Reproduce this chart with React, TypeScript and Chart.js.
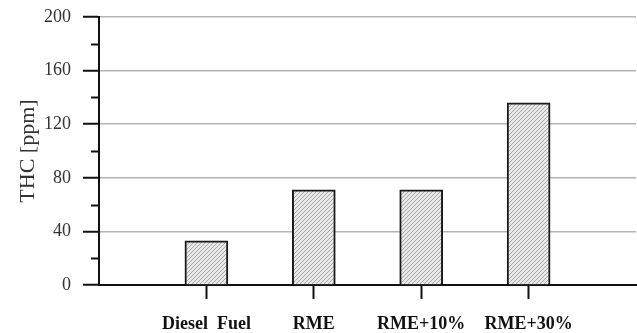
import React, { useEffect, useRef } from "react";
import { Chart, registerables } from "chart.js";

Chart.register(...registerables);

// Fuel types and measured total hydrocarbons
const fuels = ["Diesel  Fuel", "RME", "RME+10%", "RME+30%"];
const thcValues = [33, 71, 71, 136];
const majorTicks = [0, 40, 80, 120, 160, 200];
const minorTicks = [20, 60, 100, 140, 180];

function hatchPattern(): CanvasPattern | string {
  const size = 4;
  const c = document.createElement("canvas");
  c.width = size;
  c.height = size;
  const g = c.getContext("2d");
  if (!g) return "#ddd";
  g.fillStyle = "#e8e8e8";
  g.fillRect(0, 0, size, size);
  g.strokeStyle = "#a8a8a8";
  g.lineWidth = 1;
  g.beginPath();
  g.moveTo(0, size);
  g.lineTo(size, 0);
  g.moveTo(-1, 1);
  g.lineTo(1, -1);
  g.moveTo(size - 1, size + 1);
  g.lineTo(size + 1, size - 1);
  g.stroke();
  const p = g.createPattern(c, "repeat");
  return p || "#ddd";
}

// Short unlabelled ticks between the labelled ones on the value axis
const minorTickPlugin = {
  id: "minorTicks",
  afterDraw(chart: any) {
    const y = chart.scales.y;
    const ctx = chart.ctx;
    ctx.save();
    ctx.strokeStyle = "#111";
    ctx.lineWidth = 2;
    for (const v of minorTicks) {
      const py = Math.round(y.getPixelForValue(v)) + 0.5;
      ctx.beginPath();
      ctx.moveTo(y.right - 8, py);
      ctx.lineTo(y.right, py);
      ctx.stroke();
    }
    ctx.restore();
  },
};

export default function App() {
  const ref = useRef<HTMLCanvasElement>(null);

  useEffect(() => {
    if (!ref.current) return;
    // empty slots at both ends keep the bars away from the axis edges
    const labels = ["", ...fuels, ""];
    const data = [null, ...thcValues, null];
    const chart = new Chart(ref.current, {
      type: "bar",
      data: {
        labels,
        datasets: [
          {
            data,
            backgroundColor: hatchPattern() as any,
            borderColor: "#1a1a1a",
            borderWidth: 2,
            borderSkipped: "bottom",
            barThickness: 43,
          },
        ],
      },
      options: {
        animation: false,
        responsive: false,
        layout: { padding: { top: 17, right: 1, left: 0, bottom: 0 } },
        plugins: { legend: { display: false }, tooltip: { enabled: false } },
        scales: {
          x: {
            offset: false,
            afterFit: (s: any) => {
              s.height = 48;
              s.paddingLeft = 0;
              s.paddingRight = 0;
            },
            border: { display: true, color: "#111", width: 2 },
            grid: {
              offset: false,
              drawOnChartArea: false,
              drawTicks: true,
              tickLength: 14,
              tickWidth: 2,
              tickColor: (ctx: any) =>
                ctx.index === 0 || ctx.index === labels.length - 1 ? "rgba(0,0,0,0)" : "#111",
            },
            ticks: {
              padding: 15,
              maxRotation: 0,
              autoSkip: false,
              color: "#111",
              font: { family: "Liberation Serif", size: 18, weight: "bold" },
            },
          },
          y: {
            min: 0,
            max: 200,
            afterFit: (s: any) => {
              s.width = 99;
              s.paddingTop = 0;
              s.paddingBottom = 0;
            },
            afterBuildTicks: (s: any) => {
              s.ticks = majorTicks.map((v) => ({ value: v }));
            },
            border: { display: true, color: "#111", width: 2 },
            grid: {
              color: (ctx: any) => (ctx.tick && ctx.tick.value === 0 ? "rgba(0,0,0,0)" : "#b4b4b4"),
              lineWidth: 1.5,
              drawTicks: true,
              tickLength: 16,
              tickWidth: 2,
              tickColor: "#111",
            },
            ticks: {
              padding: 12,
              color: "#333",
              font: { family: "Liberation Serif", size: 18 },
            },
            title: {
              display: true,
              text: "THC [ppm]",
              color: "#333",
              padding: { top: 15, bottom: 0 },
              font: { family: "Liberation Serif", size: 22 },
            },
          },
        },
      },
      plugins: [minorTickPlugin],
    });
    return () => chart.destroy();
  }, []);

  return (
    <div style={{ position: "fixed", left: 0, top: 0, width: 637, height: 333, background: "#fff" }}>
      <canvas ref={ref} width={637} height={333} />
    </div>
  );
}
